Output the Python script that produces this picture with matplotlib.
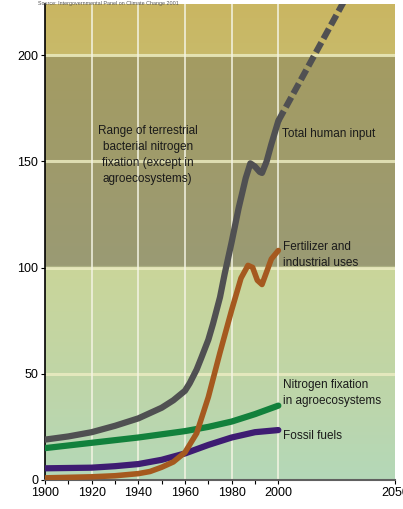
import numpy as np
import matplotlib.pyplot as plt
from matplotlib.colors import LinearSegmentedColormap

plt.rcParams['font.family'] = ['Liberation Sans Narrow', 'Liberation Sans', 'DejaVu Sans']

# values (Tg N per year)
total_years = [1900, 1910, 1920, 1930, 1940, 1950, 1955, 1960, 1962, 1965, 1967, 1970, 1972,
               1975, 1977, 1980, 1983, 1986, 1988, 1990, 1992, 1993, 1995, 1997, 2000]
total_vals = [19, 20.5, 22.5, 25.5, 29, 34, 37.5, 42, 45.5, 52, 57.5, 66, 73.5,
              86, 97, 112, 128, 142, 149, 147.5, 145, 144.5, 150, 158, 169]
proj_years = [2000, 2010, 2020, 2030]
proj_vals = [169, 189, 209, 229]

fert_years = [1900, 1920, 1930, 1940, 1945, 1950, 1955, 1960, 1965, 1970, 1975, 1980,
              1984, 1987, 1989, 1991, 1993, 1995, 1997, 2000]
fert_vals = [1, 1.5, 2, 3, 4, 6, 8.5, 13, 22, 39, 60, 80,
             95, 101, 100, 94, 92, 98, 104, 108]

agro_years = [1900, 1920, 1940, 1960, 1970, 1980, 1990, 2000]
agro_vals = [15, 17.5, 20, 23, 25, 27.5, 31, 35]

fossil_years = [1900, 1920, 1930, 1940, 1950, 1960, 1970, 1980, 1990, 2000]
fossil_vals = [5.5, 5.8, 6.5, 7.5, 9.5, 12.5, 16.5, 20, 22.5, 23.5]

# background bands: (value, colour) stops
bg_stops = [(0, '#b4d8b8'), (50, '#c0d5a6'), (99.5, '#cad69a'), (100.5, '#9a9a74'),
            (199.5, '#a49c62'), (200.5, '#c8ba6a'), (224, '#cab662')]

fig = plt.figure(figsize=(4.03, 5.09), dpi=100)
ax = fig.add_axes([45 / 403, 29 / 509, 350 / 403, 476 / 509])

ymax = 224
cmap = LinearSegmentedColormap.from_list('bg', [(v / ymax, c) for v, c in bg_stops])
grad = np.linspace(0, 1, 600).reshape(-1, 1)
ax.imshow(grad, cmap=cmap, aspect='auto', origin='lower',
          extent=[1900, 2050, 0, ymax], zorder=0)

for yv in [50, 100, 150, 200]:
    ax.axhline(yv, color='#eeeec4', lw=2.2, alpha=0.8, zorder=1)
for xv in [1920, 1940, 1960, 1980, 2000]:
    ax.axvline(xv, color='#f4f4e4', lw=1.1, zorder=1)

lw = 4.5
ax.plot(agro_years, agro_vals, color='#12813c', lw=lw, solid_capstyle='round', zorder=3)
ax.plot(fossil_years, fossil_vals, color='#3e1c72', lw=lw, solid_capstyle='round', zorder=3)
ax.plot(fert_years, fert_vals, color='#a5591f', lw=lw - 0.5, solid_capstyle='round', zorder=4)
ax.plot(total_years, total_vals, color='#505052', lw=lw, solid_capstyle='round', zorder=5)
ax.plot(proj_years, proj_vals, color='#505052', lw=lw, dashes=(1.8, 0.7), zorder=5)

fs = 8.5
ls = 1.45
ax.text(1944, 153, 'Range of terrestrial\nbacterial nitrogen\nfixation (except in\nagroecosystems)',
        ha='center', va='center', fontsize=fs, color='#1a1a1a', linespacing=ls)
ax.text(2001.5, 163, 'Total human input', fontsize=fs, va='center', color='#1a1a1a')
ax.text(2002, 106, 'Fertilizer and\nindustrial uses', fontsize=fs, va='center',
        color='#1a1a1a', linespacing=ls)
ax.text(2002, 41, 'Nitrogen fixation\nin agroecosystems', fontsize=fs, va='center',
        color='#1a1a1a', linespacing=ls)
ax.text(2002, 20.5, 'Fossil fuels', fontsize=fs, va='center', color='#1a1a1a')

fig.text(38 / 403, 0.999, 'Source: Intergovernmental Panel on Climate Change 2001',
         fontsize=3.9, va='top', color='#555555')

ax.set_xlim(1900, 2050)
ax.set_ylim(0, ymax)
ax.set_xticks([1900, 1920, 1940, 1960, 1980, 2000, 2050])
ax.set_xticks([1910, 1930, 1950, 1970, 1990], minor=True)
ax.set_yticks([0, 50, 100, 150, 200])
ax.tick_params(labelsize=9, length=3, width=0.8, pad=2)
ax.tick_params(which='minor', length=3, width=0.8)
for s in ['top', 'right']:
    ax.spines[s].set_visible(False)
ax.spines['left'].set_linewidth(1.2)
ax.spines['bottom'].set_color('#606060')
ax.spines['bottom'].set_linewidth(1.5)

fig.savefig('out.png', dpi=100)
